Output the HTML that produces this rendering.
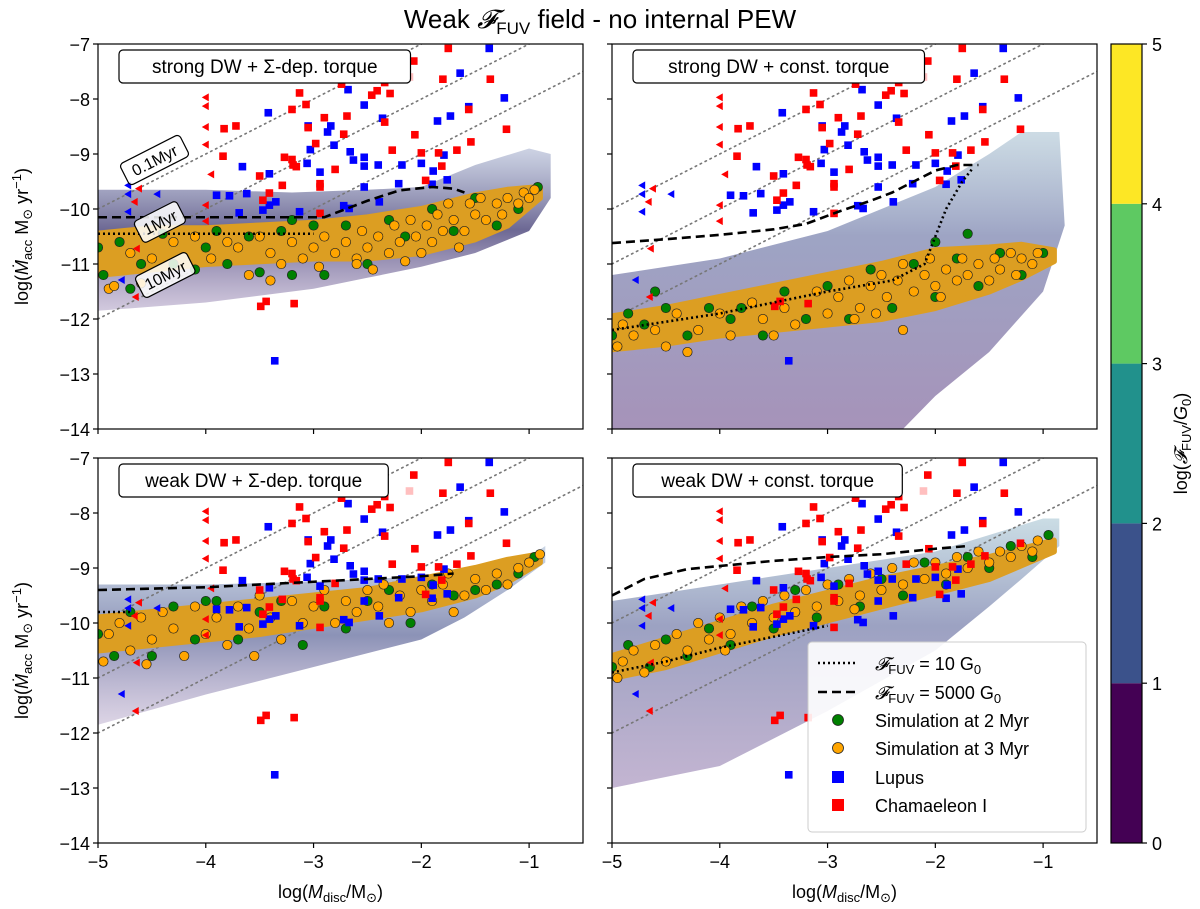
<!DOCTYPE html>
<html><head><meta charset="utf-8"><title>Weak FUV field - no internal PEW</title>
<style>
html,body{margin:0;padding:0;background:#fff;}
svg{display:block;font-family:"Liberation Sans","DejaVu Sans",sans-serif;}
</style></head>
<body>
<svg id="fig" width="1200" height="909" viewBox="0 0 1200 909" xmlns="http://www.w3.org/2000/svg">
<defs>
<linearGradient id="gA" x1="0" y1="0" x2="0" y2="1"><stop offset="0" stop-color="#9aa6c8" stop-opacity="0.5"/><stop offset="0.5" stop-color="#3c3670" stop-opacity="0.75"/><stop offset="1" stop-color="#7d66a0" stop-opacity="0.35"/></linearGradient>
<linearGradient id="gB" x1="0" y1="0" x2="0" y2="1"><stop offset="0" stop-color="#8fb0c4" stop-opacity="0.45"/><stop offset="0.35" stop-color="#4e5a94" stop-opacity="0.55"/><stop offset="1" stop-color="#5d3a80" stop-opacity="0.55"/></linearGradient>
<linearGradient id="gC" x1="0" y1="0" x2="0" y2="1"><stop offset="0" stop-color="#8aa3c6" stop-opacity="0.45"/><stop offset="0.5" stop-color="#3f4a86" stop-opacity="0.6"/><stop offset="1" stop-color="#8a70a8" stop-opacity="0.3"/></linearGradient>
<linearGradient id="gD" x1="0" y1="0" x2="0" y2="1"><stop offset="0" stop-color="#8ab2c4" stop-opacity="0.45"/><stop offset="0.4" stop-color="#4b5590" stop-opacity="0.55"/><stop offset="1" stop-color="#7a5a9a" stop-opacity="0.45"/></linearGradient>
</defs>
<text x="600" y="28" text-anchor="middle" font-size="26">Weak <tspan font-family="Liberation Serif" font-style="italic">𝓕</tspan><tspan font-size="17" dy="6">FUV</tspan><tspan dy="-6"> field - no internal PEW</tspan></text>
<g id="panels"></g>
<g id="colorbar"></g>
</svg>
<script>
// ---- observational data (shared across panels) ----
const lupusX = [-1.37,-1.64,-2.68,-1.23,-2.53,-1.56,-3.42,-2.36,-1.73,-1.85,-3.05,-2.84,-2.87,-2.81,-3.03,-2.66,-1.79,-3.66,-3.06,-2.94,-2.63,-2.53,-2.53,-2.40,-2.18,-2.0,-3.41,-1.89,-1.76,-2.21,-2.53,-1.90,-3.90,-3.78,-3.62,-3.35,-3.41,-3.47,-2.72,-2.67,-2.39,-3.69,-3.13,-3.36];
const lupusY = [-7.08,-7.53,-7.83,-7.98,-8.11,-8.14,-8.25,-8.35,-8.31,-8.40,-8.49,-8.49,-8.60,-8.84,-8.92,-8.96,-9.02,-9.23,-9.17,-9.33,-9.11,-9.06,-9.22,-9.20,-9.20,-9.17,-9.36,-9.31,-9.47,-9.54,-9.60,-9.55,-9.75,-9.76,-9.72,-9.87,-9.93,-10.02,-9.94,-9.99,-9.87,-10.07,-10.05,-12.76];
const chamX = [-1.75,-2.07,-2.51,-3.43,-2.11,-1.36,-1.80,-2.74,-2.34,-3.13,-2.46,-2.41,-2.29,-3.07,-3.20,-1.56,-2.69,-2.90,-2.34,-3.83,-3.72,-3.05,-2.72,-1.21,-2.06,-1.54,-2.98,-2.27,-1.67,-2.0,-1.84,-3.84,-3.27,-3.20,-3.19,-3.16,-2.80,-1.81,-3.50,-3.41,-3.29,-2.94,-2.94,-1.96,-3.47,-2.94,-3.49,-3.44,-3.18];
const chamY = [-7.08,-7.31,-7.18,-7.53,-7.60,-7.64,-7.64,-7.73,-7.70,-7.89,-7.93,-7.85,-7.90,-8.10,-8.19,-8.19,-8.31,-8.34,-8.42,-8.54,-8.49,-8.52,-8.64,-8.55,-8.65,-8.78,-8.81,-8.93,-8.93,-8.98,-8.98,-9.04,-9.06,-9.10,-9.20,-9.23,-9.28,-9.22,-9.40,-9.71,-9.57,-9.54,-9.60,-9.48,-9.84,-10.08,-11.77,-11.68,-11.72];
const chamFaded = [0,0,1,1,1,0,0,0,0,0,0,0,0,0,0,0,0,0,0,0,0,0,0,0,0,0,0,0,0,0,0,0,0,0,0,0,0,0,0,0,0,0,0,0,0,0,0,0,0];
const lupusLimX = [-4.72,-4.72,-4.72,-4.45,-4.78];
const lupusLimY = [-9.57,-9.73,-10.05,-9.73,-11.29];
const chamLimX = [-4.0,-4.0,-4.0,-4.0,-3.95,-4.0,-4.0,-4.62,-4.66,-4.64,-4.65];
const chamLimY = [-7.97,-8.13,-8.51,-8.83,-9.37,-9.93,-10.22,-9.63,-9.87,-10.72,-11.6];

// ---- simulation clouds per panel ----
const simA3 = [[-4.9,-11.45],[-4.85,-11.4],[-4.7,-10.8],[-4.5,-10.9],[-4.3,-10.6],[-4.1,-10.5],[-3.95,-10.9],[-3.8,-10.6],[-3.7,-10.7],[-3.6,-11.2],[-3.5,-10.5],[-3.4,-10.8],[-3.3,-11.0],[-3.2,-10.6],[-3.1,-10.9],[-3.0,-10.7],[-2.95,-11.05],[-2.9,-10.5],[-2.8,-10.8],[-2.7,-10.6],[-2.6,-10.9],[-2.55,-10.4],[-2.5,-10.7],[-2.45,-11.1],[-2.4,-10.5],[-2.3,-10.8],[-2.25,-10.3],[-2.2,-10.6],[-2.1,-10.2],[-2.05,-10.5],[-2.0,-10.8],[-1.95,-10.3],[-1.9,-10.6],[-1.85,-10.1],[-1.8,-10.4],[-1.75,-9.9],[-1.7,-10.2],[-1.6,-10.4],[-1.55,-9.9],[-1.5,-10.1],[-1.45,-9.8],[-1.4,-10.2],[-1.3,-9.9],[-1.25,-10.1],[-1.2,-9.8],[-1.1,-9.9],[-1.05,-9.7],[-1.0,-9.8],[-0.95,-9.65],[-2.6,-11.0],[-3.4,-11.3],[-4.6,-11.35],[-2.15,-10.95],[-1.65,-10.7]];
const simA2 = [[-5,-10.7],[-4.95,-11.2],[-4.8,-10.6],[-4.6,-11.0],[-4.4,-10.45],[-4.3,-11.0],[-4.1,-11.1],[-3.9,-10.4],[-3.8,-11.0],[-3.6,-10.5],[-3.5,-11.15],[-3.3,-10.4],[-3.2,-11.2],[-3.0,-10.3],[-2.9,-11.2],[-2.7,-10.3],[-2.5,-11.0],[-2.3,-10.2],[-2.15,-10.5],[-1.9,-10.0],[-1.7,-10.4],[-1.5,-9.8],[-1.3,-10.3],[-1.1,-10.0],[-0.92,-9.6],[-4.7,-11.45],[-4.0,-10.7],[-3.2,-10.2]];
const simB3 = [[-4.95,-12.5],[-4.9,-12.1],[-4.8,-12.3],[-4.6,-12.2],[-4.5,-12.5],[-4.4,-11.9],[-4.2,-12.2],[-4.0,-11.9],[-3.9,-12.3],[-3.7,-11.7],[-3.6,-12.0],[-3.4,-11.8],[-3.3,-12.1],[-3.1,-11.5],[-3.0,-11.9],[-2.9,-11.6],[-2.8,-11.3],[-2.7,-11.8],[-2.6,-11.4],[-2.5,-11.2],[-2.45,-11.6],[-2.35,-11.3],[-2.3,-11.0],[-2.2,-11.5],[-2.1,-11.2],[-2.05,-10.9],[-2.0,-11.4],[-1.9,-11.1],[-1.8,-11.3],[-1.75,-10.9],[-1.7,-11.2],[-1.6,-11.0],[-1.5,-11.3],[-1.45,-10.9],[-1.4,-11.1],[-1.3,-10.8],[-1.25,-11.2],[-1.2,-10.9],[-1.1,-11.0],[-1.05,-10.8],[-3.5,-12.3],[-4.3,-12.6],[-2.55,-11.9],[-1.95,-11.6],[-2.3,-12.2],[-2.75,-12.0]];
const simB2 = [[-5,-12.3],[-4.85,-11.9],[-4.7,-12.1],[-4.5,-11.8],[-4.3,-12.3],[-4.1,-11.8],[-3.8,-11.8],[-3.6,-12.3],[-3.4,-11.5],[-3.2,-12.0],[-3.0,-11.4],[-2.8,-12.0],[-2.6,-11.1],[-2.4,-11.8],[-2.2,-11.0],[-2.0,-11.6],[-1.8,-10.9],[-1.6,-11.4],[-1.4,-10.8],[-1.2,-11.2],[-1.0,-10.8],[-3.9,-12.0],[-4.6,-11.5],[-2.0,-10.6],[-1.7,-10.45]];
const simC3 = [[-4.95,-10.7],[-4.9,-10.2],[-4.8,-10.0],[-4.7,-10.5],[-4.6,-9.9],[-4.5,-10.3],[-4.4,-9.8],[-4.3,-10.1],[-4.2,-10.6],[-4.1,-9.7],[-4.0,-10.2],[-3.9,-9.9],[-3.8,-10.4],[-3.7,-9.7],[-3.6,-10.1],[-3.5,-9.5],[-3.4,-9.9],[-3.3,-10.3],[-3.2,-9.6],[-3.1,-10.0],[-3.0,-9.7],[-2.9,-9.4],[-2.8,-10.0],[-2.7,-9.6],[-2.6,-9.8],[-2.5,-9.4],[-2.4,-9.7],[-2.3,-10.0],[-2.2,-9.5],[-2.1,-9.8],[-2.0,-9.4],[-1.9,-9.6],[-1.8,-9.3],[-1.7,-9.8],[-1.6,-9.5],[-1.5,-9.2],[-1.4,-9.4],[-1.3,-9.1],[-1.2,-9.3],[-1.1,-9.0],[-1.0,-8.9],[-0.9,-8.75],[-1.75,-9.1],[-2.35,-9.3],[-3.55,-10.6],[-4.55,-10.75]];
const simC2 = [[-5,-10.2],[-4.85,-10.6],[-4.7,-9.8],[-4.5,-10.6],[-4.3,-9.7],[-4.1,-10.3],[-3.9,-9.6],[-3.7,-10.3],[-3.5,-9.8],[-3.3,-9.6],[-3.1,-10.4],[-2.9,-9.7],[-2.7,-10.1],[-2.5,-9.6],[-2.3,-9.4],[-2.1,-10.0],[-1.9,-9.3],[-1.7,-9.5],[-1.5,-9.4],[-1.3,-9.3],[-1.1,-9.1],[-0.95,-8.8],[-4.0,-9.6]];
const simD3 = [[-4.95,-11.0],[-4.9,-10.7],[-4.8,-10.5],[-4.7,-10.9],[-4.6,-10.4],[-4.5,-10.7],[-4.4,-10.2],[-4.3,-10.5],[-4.2,-10.0],[-4.1,-10.3],[-4.0,-9.9],[-3.9,-10.2],[-3.8,-9.7],[-3.7,-10.0],[-3.6,-9.6],[-3.5,-9.9],[-3.4,-9.5],[-3.3,-9.8],[-3.2,-9.4],[-3.1,-9.7],[-3.0,-9.3],[-2.9,-9.6],[-2.8,-9.2],[-2.7,-9.5],[-2.6,-9.1],[-2.5,-9.4],[-2.4,-9.0],[-2.3,-9.3],[-2.2,-8.9],[-2.1,-9.2],[-2.0,-8.9],[-1.9,-9.1],[-1.8,-8.8],[-1.7,-9.0],[-1.6,-8.7],[-1.5,-8.9],[-1.4,-8.7],[-1.3,-8.8],[-1.2,-8.6],[-1.1,-8.7],[-1.05,-8.5],[-3.95,-10.5],[-2.75,-9.75]];
const simD2 = [[-5,-10.8],[-4.85,-10.4],[-4.65,-10.8],[-4.5,-10.3],[-4.3,-10.6],[-4.1,-10.1],[-3.9,-10.4],[-3.7,-9.7],[-3.5,-10.1],[-3.3,-9.4],[-3.1,-9.9],[-2.9,-9.3],[-2.7,-9.7],[-2.5,-9.2],[-2.3,-9.5],[-2.1,-8.9],[-1.9,-9.3],[-1.7,-8.8],[-1.5,-9.0],[-1.3,-8.6],[-1.1,-8.8],[-0.95,-8.4]];

// cloud envelopes (dense region of simulated discs)
const cloudX = [-5,-4.5,-4,-3.5,-3,-2.5,-2,-1.5,-1.2,-0.9];
const cloudAHi = [-10.45,-10.35,-10.35,-10.3,-10.25,-10.15,-10.0,-9.75,-9.65,-9.6];
const cloudALo = [-11.2,-11.1,-11.0,-10.95,-10.9,-10.9,-10.8,-10.55,-10.3,-9.8];
const cloudBHi = [-11.95,-11.8,-11.6,-11.4,-11.2,-11.0,-10.75,-10.7,-10.65,-10.75];
const cloudBLo = [-12.55,-12.45,-12.3,-12.2,-12.1,-12.0,-11.8,-11.5,-11.25,-10.95];
const cloudCHi = [-9.9,-9.8,-9.7,-9.6,-9.5,-9.4,-9.2,-9.0,-8.85,-8.75];
const cloudCLo = [-10.5,-10.4,-10.3,-10.2,-10.05,-9.9,-9.75,-9.5,-9.25,-8.9];
const cloudDHi = [-10.6,-10.3,-10.0,-9.7,-9.45,-9.2,-9.0,-8.8,-8.65,-8.5];
const cloudDLo = [-11.0,-10.8,-10.5,-10.2,-9.95,-9.7,-9.45,-9.2,-8.95,-8.7];

// disc evolution track envelopes
const trackAX = [-5,-4,-3.2,-2.5,-2,-1.5,-1.0,-0.8,-0.8,-1.0,-1.5,-2,-2.5,-3,-4,-5];
const trackAY = [-9.65,-9.65,-9.7,-9.65,-9.6,-9.2,-8.9,-9.0,-9.8,-10.4,-10.8,-11.05,-11.25,-11.45,-11.7,-11.85];
const trackBX = [-5,-4,-3,-2.5,-2,-1.5,-1.2,-0.85,-0.8,-1.0,-1.5,-2.0,-2.3,-5];
const trackBY = [-11.2,-10.9,-10.4,-10.0,-9.6,-9.0,-8.6,-8.6,-10.3,-11.5,-12.6,-13.4,-14,-14];
const trackCX = [-5,-4,-3,-2,-1.5,-1.0,-0.85,-0.85,-1.2,-1.6,-2,-3,-4,-5];
const trackCY = [-9.3,-9.3,-9.25,-9.15,-9.0,-8.8,-8.6,-8.9,-9.4,-9.9,-10.3,-10.8,-11.3,-11.85];
const trackDX = [-5,-4,-3,-2,-1.5,-1.0,-0.85,-0.85,-1.2,-1.5,-2,-3,-4,-5];
const trackDY = [-9.6,-9.3,-9.0,-8.7,-8.4,-8.1,-8.1,-8.6,-9.2,-9.7,-10.5,-11.6,-12.6,-13.0];

// FUV reference lines
const dashAX = [-5,-2.9,-2.7,-2.5,-2.2,-1.9,-1.7,-1.6];
const dashAY = [-10.15,-10.15,-10.0,-9.85,-9.66,-9.6,-9.63,-9.7];
const dotAX = [-5,-3.0];
const dotAY = [-10.45,-10.45];
const dashBX = [-5,-4.5,-4,-3.5,-3.2,-2.9,-2.6,-2.4,-2.2,-2.0,-1.8,-1.6];
const dashBY = [-10.62,-10.55,-10.47,-10.37,-10.27,-10.05,-9.85,-9.7,-9.5,-9.3,-9.2,-9.2];
const dotBX = [-5,-4,-3,-2.4,-2.1,-1.9,-1.75,-1.65];
const dotBY = [-12.2,-11.9,-11.5,-11.3,-11.0,-10.0,-9.5,-9.25];
const dashCX = [-5,-4,-3,-2,-1.7];
const dashCY = [-9.4,-9.35,-9.25,-9.15,-9.1];
const dotCX = [-5,-4.7];
const dotCY = [-9.8,-9.8];
const dashDX = [-5,-4.7,-4.3,-3.5,-3,-2.5,-2,-1.7];
const dashDY = [-9.5,-9.2,-9.02,-8.87,-8.8,-8.75,-8.65,-8.6];
const dotDX = [-5,-4.5,-4,-3.5,-3];
const dotDY = [-10.9,-10.7,-10.45,-10.25,-10.05];

// isochrone offsets: log Mdot = log Mdisc - offset
const isoOffsets = [5,6,7];
const isoLabels = ["0.1Myr","1Myr","10Myr"];
const isoLabelX = [-4.55,-4.5,-4.45];

const xTicks = [-5,-4,-3,-2,-1];
const yTicks = [-7,-8,-9,-10,-11,-12,-13,-14];
const cbTicks = [0,1,2,3,4,5];
const cbColors = ["#440154","#3b528b","#21918c","#5ec962","#fde725"];

const panelTitles = ["strong DW + Σ-dep. torque","strong DW + const. torque","weak DW + Σ-dep. torque","weak DW + const. torque"];
const NS = "http://www.w3.org/2000/svg";
const PW = 485, PH = 385;
const boxes = [[98,44],[612,44],[98,458],[612,458]];

function el(tag, attrs, parent){ const e=document.createElementNS(NS,tag); for(const k in attrs) e.setAttribute(k,attrs[k]); parent.appendChild(e); return e; }

const root = document.getElementById('panels');
const panelData = [
 {o:simA3,g:simA2,cHi:cloudAHi,cLo:cloudALo,tx:trackAX,ty:trackAY,grad:'gA',dx:dashAX,dy:dashAY,ox:dotAX,oy:dotAY,name:'panel-strong-dw-sigma'},
 {o:simB3,g:simB2,cHi:cloudBHi,cLo:cloudBLo,tx:trackBX,ty:trackBY,grad:'gB',dx:dashBX,dy:dashBY,ox:dotBX,oy:dotBY,name:'panel-strong-dw-const'},
 {o:simC3,g:simC2,cHi:cloudCHi,cLo:cloudCLo,tx:trackCX,ty:trackCY,grad:'gC',dx:dashCX,dy:dashCY,ox:dotCX,oy:dotCY,name:'panel-weak-dw-sigma'},
 {o:simD3,g:simD2,cHi:cloudDHi,cLo:cloudDLo,tx:trackDX,ty:trackDY,grad:'gD',dx:dashDX,dy:dashDY,ox:dotDX,oy:dotDY,name:'panel-weak-dw-const'}
];

panelData.forEach((P,i)=>{
  const [L,T] = boxes[i];
  const sx = v => L + (v+5)/4.5*PW;
  const sy = v => T + (-7 - v)/7*PH;
  const g = el('g',{},root);
  
  
  const clipId='clip'+i;
  const cp = el('clipPath',{id:clipId},g); el('rect',{x:L,y:T,width:PW,height:PH},cp);
  const inner = el('g',{'clip-path':`url(#${clipId})`},g);

  let d = P.tx.map((x,k)=>(k?'L':'M')+sx(x).toFixed(1)+','+sy(P.ty[k]).toFixed(1)).join('')+'Z';
  const tr = el('path',{d:d,fill:`url(#${P.grad})`},inner);
  
  

  isoOffsets.forEach((off,k)=>{
    const ln = el('line',{x1:sx(-5),y1:sy(-5-off),x2:sx(-0.5),y2:sy(-0.5-off),stroke:'#777','stroke-width':1.6,'stroke-dasharray':'1.5,4','stroke-linecap':'round'},inner);
    
    
  });

  let cd = cloudX.map((x,k)=>(k?'L':'M')+sx(x).toFixed(1)+','+sy(P.cHi[k]).toFixed(1)).join('');
  for(let k=cloudX.length-1;k>=0;k--) cd += 'L'+sx(cloudX[k]).toFixed(1)+','+sy(P.cLo[k]).toFixed(1);
  const cl = el('path',{d:cd+'Z',fill:'#dc9e22',stroke:'#dc9e22','stroke-width':6,'stroke-linejoin':'round'},inner);
  
  

  P.g.forEach(p=>{ const c=el('circle',{cx:sx(p[0]),cy:sy(p[1]),r:4.7,fill:'#008000',stroke:'#222','stroke-width':0.7},inner);
      });
  P.o.forEach(p=>{ const c=el('circle',{cx:sx(p[0]),cy:sy(p[1]),r:4.7,fill:'#ffa500',stroke:'#222','stroke-width':0.7},inner);
      });

  lupusX.forEach((x,k)=>{ const r=el('rect',{x:sx(x)-3.8,y:sy(lupusY[k])-3.8,width:7.6,height:7.6,fill:'#0000ff'},inner);
      });
  chamX.forEach((x,k)=>{ const r=el('rect',{x:sx(x)-3.8,y:sy(chamY[k])-3.8,width:7.6,height:7.6,fill:'#ff0000','fill-opacity':chamFaded[k]?0.25:1},inner);
      });
  const tri=(x,y,col,nm)=>{ const X=sx(x),Y=sy(y); const t=el('polygon',{points:`${X-4},${Y} ${X+3},${Y-4} ${X+3},${Y+4}`,fill:col},inner);
      };
  lupusLimX.forEach((x,k)=>tri(x,lupusLimY[k],'#0000ff','lupus-upper-limit'));
  chamLimX.forEach((x,k)=>tri(x,chamLimY[k],'#ff0000','chamaeleon-upper-limit'));

  const dl = el('polyline',{points:P.dx.map((x,k)=>sx(x)+','+sy(P.dy[k])).join(' '),fill:'none',stroke:'#000','stroke-width':2.6,'stroke-dasharray':'9,5'},inner);
   
  const ol = el('polyline',{points:P.ox.map((x,k)=>sx(x)+','+sy(P.oy[k])).join(' '),fill:'none',stroke:'#000','stroke-width':2.6,'stroke-dasharray':'2,3'},inner);
   

  if(i===0){
    const lyPix=[160,222,275];
    isoLabels.forEach((lab,k)=>{
      const X=sx(isoLabelX[k])+8, Y=lyPix[k];
      const lg = el('g',{transform:`translate(${X},${Y}) rotate(-27)`},g);
       
      const w = lab.length*9.5+10;
      el('rect',{x:-w/2,y:-12,width:w,height:24,rx:4,fill:'#fff','fill-opacity':0.85,stroke:'#000','stroke-width':1.2},lg);
      const t=el('text',{x:0,y:6,'text-anchor':'middle','font-size':16},lg); t.textContent=lab;
    });
  }

  el('rect',{x:L,y:T,width:PW,height:PH,fill:'none',stroke:'#000','stroke-width':1.2},g);
  const tg = el('g',{},g);
   
  const tw = panelTitles[i].length*11.1+14;
  el('rect',{x:L+21,y:T+6,width:tw,height:33,rx:4,fill:'#fff',stroke:'#000','stroke-width':1.2},tg);
  const tt=el('text',{x:L+21+tw/2,y:T+29,'text-anchor':'middle','font-size':19},tg); tt.textContent=panelTitles[i];

  xTicks.forEach(v=>{ el('line',{x1:sx(v),y1:T+PH,x2:sx(v),y2:T+PH+5,stroke:'#000','stroke-width':1.2},g);
    if(i>=2){ const t=el('text',{x:sx(v),y:T+PH+25,'text-anchor':'middle','font-size':18},g); t.textContent='−'+Math.abs(v);
        } });
  yTicks.forEach(v=>{ el('line',{x1:L-5,y1:sy(v),x2:L,y2:sy(v),stroke:'#000','stroke-width':1.2},g);
    if(i%2===0){ const t=el('text',{x:L-8,y:sy(v)+7,'text-anchor':'end','font-size':18},g); t.textContent='−'+Math.abs(v);
        } });

  if(i>=2){
    const xl=el('text',{x:L+PW/2-10,y:T+PH+55,'text-anchor':'middle','font-size':18},g);
     
    xl.innerHTML='log(<tspan font-style="italic">M</tspan><tspan font-size="13" dy="4">disc</tspan><tspan dy="-4">/M</tspan><tspan font-size="13" dy="4">⊙</tspan><tspan dy="-4">)</tspan>';
  }
  if(i%2===0){
    const yl=el('text',{transform:`translate(28,${T+PH/2}) rotate(-90)`,'text-anchor':'middle','font-size':18},g);
     
    yl.innerHTML='log(<tspan font-style="italic">Ṁ</tspan><tspan font-size="13" dy="4">acc</tspan><tspan dy="-4"> M</tspan><tspan font-size="13" dy="4">⊙</tspan><tspan dy="-4"> yr</tspan><tspan font-size="13" dy="-7">−1</tspan><tspan dy="7">)</tspan>';
  }

  if(i===3){
    const lg=el('g',{},g);
     
    el('rect',{x:808,y:642,width:278,height:190,rx:4,fill:'#fff','fill-opacity':0.9,stroke:'#ccc','stroke-width':1},lg);
    const rows=[663,692,720,748,777,805];
    const labels=['','','Simulation at 2 Myr','Simulation at 3 Myr','Lupus','Chamaeleon I'];
    el('line',{x1:818,y1:rows[0],x2:858,y2:rows[0],stroke:'#000','stroke-width':2.6,'stroke-dasharray':'2,3'},lg);
    el('line',{x1:818,y1:rows[1],x2:858,y2:rows[1],stroke:'#000','stroke-width':2.6,'stroke-dasharray':'9,5'},lg);
    el('circle',{cx:838,cy:rows[2],r:5.5,fill:'#008000',stroke:'#222','stroke-width':0.8},lg);
    el('circle',{cx:838,cy:rows[3],r:5.5,fill:'#ffa500',stroke:'#222','stroke-width':0.8},lg);
    el('rect',{x:832,y:rows[4]-6,width:12,height:12,fill:'#0000ff'},lg);
    el('rect',{x:832,y:rows[5]-6,width:12,height:12,fill:'#ff0000'},lg);
    const f1=el('text',{x:875,y:rows[0]+7,'font-size':18},lg);
    f1.innerHTML='<tspan font-family="Liberation Serif" font-style="italic">𝓕</tspan><tspan font-size="13" dy="4">FUV</tspan><tspan dy="-4"> = 10 G</tspan><tspan font-size="13" dy="4">0</tspan>';
    const f2=el('text',{x:875,y:rows[1]+7,'font-size':18},lg);
    f2.innerHTML='<tspan font-family="Liberation Serif" font-style="italic">𝓕</tspan><tspan font-size="13" dy="4">FUV</tspan><tspan dy="-4"> = 5000 G</tspan><tspan font-size="13" dy="4">0</tspan>';
    for(let k=2;k<6;k++){ const t=el('text',{x:875,y:rows[k]+7,'font-size':18},lg); t.textContent=labels[k]; }
  }
});

const cb=document.getElementById('colorbar');
const cbT=44, cbB=843, cbL=1111, cbW=31;
const cy = v => cbB - v/5*(cbB-cbT);
cbColors.forEach((c,k)=>{ const r=el('rect',{x:cbL,y:cy(k+1),width:cbW,height:cy(k)-cy(k+1),fill:c},cb);
    });
el('rect',{x:cbL,y:cbT,width:cbW,height:cbB-cbT,fill:'none',stroke:'#000','stroke-width':1.2},cb);
cbTicks.forEach(v=>{ el('line',{x1:cbL+cbW,y1:cy(v),x2:cbL+cbW+5,y2:cy(v),stroke:'#000','stroke-width':1.2},cb);
  const t=el('text',{x:cbL+cbW+10,y:cy(v)+7,'font-size':18},cb); t.textContent=v;
    });
const cl=el('text',{transform:`translate(1187,${(cbT+cbB)/2}) rotate(-90)`,'text-anchor':'middle','font-size':18},cb);
 
cl.innerHTML='log(<tspan font-family="Liberation Serif" font-style="italic">𝓕</tspan><tspan font-size="13" dy="4">FUV</tspan><tspan dy="-4">/</tspan><tspan font-style="italic">G</tspan><tspan font-size="13" dy="4">0</tspan><tspan dy="-4">)</tspan>';
</script>
</body></html>
